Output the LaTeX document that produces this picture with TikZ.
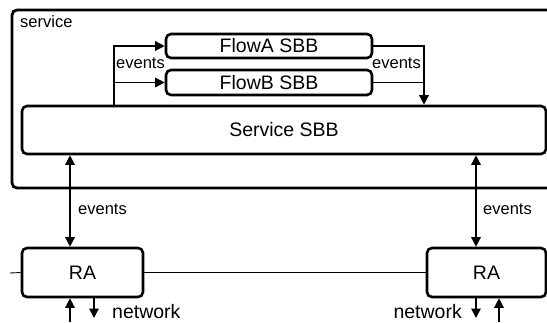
\documentclass[tikz,border=0pt]{standalone}
\usepackage{fontspec}
\setmainfont{Liberation Sans}
\usepackage{tikz}
\usetikzlibrary{arrows.meta,positioning}

\begin{document}
\begin{tikzpicture}[x=1pt,y=-1pt,>={Triangle[width=9.5pt,length=9.5pt]},
    sbb node/.style={draw,line width=2.6pt,rounded corners=5pt,inner sep=0pt,font=\fontsize{19.5}{22}\selectfont},
    small text/.style={inner sep=0pt,font=\fontsize{16.5}{19}\selectfont},
    big text/.style={inner sep=0pt,font=\fontsize{19.5}{22}\selectfont},
    link/.style={line width=1.4pt}]
    \useasboundingbox (0,0) rectangle (547,322);

    % service container, open to the right
    \draw[line width=2.8pt,rounded corners=5pt] (560,10) -- (12,10) -- (12,188) -- (560,188);
    \node[small text,anchor=west] (svc) at (20,22) {service};

    \node[sbb node,minimum width=206pt,minimum height=24pt] (flowa) at (269,46) {FlowA SBB};
    \node[sbb node,minimum width=206pt,minimum height=25pt] (flowb) at (269,82.5) {FlowB SBB};
    \node[sbb node,minimum width=524pt,minimum height=48pt] (sbb) at (284,130) {Service SBB};
    \node[sbb node,minimum width=121pt,minimum height=49pt] (ra1) at (82.5,272.5) {RA};
    \node[sbb node,minimum width=119pt,minimum height=49pt] (ra2) at (486.5,272.5) {RA};

    % events between the SBBs
    \coordinate (ja) at (114,46);
    \coordinate (jb) at (424,46);
    \draw[link,->] (sbb.north -| ja) -- (ja) -- (flowa.west);
    \draw[link,->] (sbb.north -| ja) |- (flowb.west);
    \draw[link,->] (flowa.east) -- (jb) -- (sbb.north -| jb);
    \draw[link] (flowb.east) -- (flowb.east -| jb);
    \node[small text,anchor=west] (ev1) at (116,63) {events};
    \node[small text,anchor=west] (ev2) at (372,63) {events};

    % events between the service and the RAs
    \draw[link,<->] ([xshift=-12.5pt]ra1.north |- sbb.south) -- ([xshift=-12.5pt]ra1.north);
    \draw[link,<->] ([xshift=-10.5pt]ra2.north |- sbb.south) -- ([xshift=-10.5pt]ra2.north);
    \node[small text,anchor=west] (ev3) at (78,209) {events};
    \node[small text,anchor=west] (ev4) at (483,209) {events};

    % line through the RAs
    \coordinate (lend) at (10,273);
    \draw[line width=0.9pt] (lend) -- (ra1.west);
    \draw[line width=0.9pt] (ra1.east) -- (ra2.west);

    % network
    \coordinate (in1) at (70,322);
    \coordinate (out1) at (94,318);
    \coordinate (out2) at (476,318);
    \coordinate (in2) at (499,322);
    \draw[link,->] (in1) -- (in1 |- ra1.south);
    \draw[link,->] (out1 |- ra1.south) -- (out1);
    \draw[link,->] (out2 |- ra2.south) -- (out2);
    \draw[link,->] (in2) -- (in2 |- ra2.south);
    \node[big text,anchor=west] (net1) at (112,312) {network};
    \node[big text,anchor=east] (net2) at (462,312) {network};
\end{tikzpicture}
\end{document}
